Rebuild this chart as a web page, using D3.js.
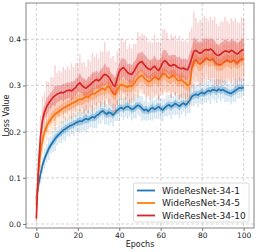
<!DOCTYPE html>
<html><head><meta charset="utf-8">
<script src="https://cdn.jsdelivr.net/npm/d3@7"></script>
<style>body{margin:0;background:#fff}svg{display:block;font-family:"DejaVu Sans",sans-serif}</style>
</head><body><svg id="c" width="258" height="252"></svg>
<script>
const seriesNames = ["WideResNet-34-1","WideResNet-34-5","WideResNet-34-10"];
const seriesColors = ["#1f77b4","#ff7f0e","#d62728"];
const xTicks = [0,20,40,60,80,100];
const yTicks = [0.0,0.1,0.2,0.3,0.4];

const blueMean = [0.055,0.085,0.108,0.128,0.142,0.153,0.163,0.171,0.178,0.184,
0.19,0.194,0.199,0.203,0.206,0.209,0.212,0.214,0.216,0.219,
0.221,0.223,0.222,0.226,0.228,0.226,0.229,0.232,0.23,0.235,
0.237,0.242,0.245,0.241,0.238,0.242,0.24,0.236,0.241,0.246,
0.25,0.252,0.249,0.253,0.255,0.252,0.248,0.25,0.254,0.257,
0.255,0.25,0.246,0.248,0.244,0.249,0.252,0.248,0.251,0.254,
0.25,0.247,0.252,0.256,0.258,0.254,0.257,0.261,0.258,0.255,
0.259,0.262,0.258,0.262,0.268,0.276,0.279,0.281,0.279,0.283,
0.285,0.282,0.286,0.289,0.287,0.291,0.29,0.288,0.292,0.289,
0.291,0.288,0.286,0.284,0.283,0.286,0.289,0.292,0.295,0.294,0.296];
const orangeMean = [0.04,0.11,0.155,0.182,0.2,0.212,0.22,0.227,0.233,0.238,
0.241,0.244,0.248,0.251,0.253,0.256,0.258,0.261,0.263,0.265,
0.268,0.27,0.27,0.273,0.276,0.274,0.279,0.283,0.281,0.285,
0.288,0.291,0.294,0.29,0.296,0.298,0.29,0.283,0.28,0.29,
0.298,0.302,0.3,0.298,0.296,0.3,0.298,0.304,0.31,0.316,
0.32,0.322,0.316,0.312,0.308,0.31,0.314,0.318,0.316,0.312,
0.318,0.324,0.326,0.32,0.316,0.318,0.322,0.318,0.312,0.31,
0.313,0.308,0.305,0.3,0.302,0.336,0.352,0.356,0.348,0.346,
0.35,0.355,0.36,0.356,0.354,0.358,0.352,0.347,0.345,0.344,
0.348,0.352,0.355,0.352,0.35,0.355,0.352,0.348,0.354,0.358,0.356];
const redMean = [0.012,0.12,0.19,0.226,0.243,0.254,0.262,0.268,0.274,0.278,
0.281,0.283,0.285,0.284,0.287,0.289,0.29,0.288,0.292,0.296,
0.302,0.306,0.3,0.296,0.294,0.298,0.302,0.306,0.31,0.313,
0.31,0.314,0.32,0.324,0.322,0.318,0.31,0.302,0.298,0.315,
0.33,0.336,0.339,0.334,0.328,0.325,0.324,0.33,0.338,0.346,
0.35,0.352,0.345,0.34,0.336,0.334,0.338,0.342,0.336,0.332,
0.34,0.35,0.354,0.35,0.344,0.342,0.345,0.344,0.34,0.338,
0.336,0.338,0.335,0.334,0.345,0.36,0.374,0.376,0.372,0.37,
0.372,0.376,0.378,0.376,0.379,0.376,0.37,0.366,0.365,0.368,
0.372,0.375,0.374,0.372,0.376,0.374,0.37,0.368,0.372,0.376,0.378];

const blueSpread = [0.006,0.015,0.02,0.018,0.022,0.02,0.024,0.019,0.022,0.026,
0.02,0.018,0.024,0.021,0.027,0.019,0.023,0.02,0.025,0.018,
0.022,0.026,0.02,0.024,0.03,0.021,0.019,0.025,0.022,0.028,
0.02,0.024,0.019,0.026,0.022,0.03,0.021,0.025,0.018,0.023,
0.027,0.02,0.024,0.022,0.028,0.019,0.024,0.021,0.026,0.02,
0.023,0.027,0.021,0.025,0.019,0.024,0.028,0.02,0.023,0.026,
0.021,0.025,0.019,0.024,0.022,0.027,0.02,0.025,0.021,0.026,
0.023,0.019,0.025,0.022,0.028,0.021,0.024,0.02,0.026,0.022,
0.025,0.019,0.024,0.021,0.027,0.02,0.023,0.026,0.021,0.024,
0.02,0.025,0.022,0.019,0.024,0.021,0.026,0.02,0.023,0.021,0.018];
const orangeSpread = [0.008,0.03,0.035,0.03,0.028,0.032,0.027,0.035,0.03,0.038,
0.028,0.033,0.03,0.036,0.029,0.034,0.03,0.038,0.031,0.035,
0.029,0.037,0.032,0.04,0.03,0.035,0.031,0.042,0.033,0.036,
0.03,0.04,0.034,0.038,0.031,0.043,0.035,0.032,0.039,0.034,
0.04,0.033,0.045,0.036,0.032,0.041,0.035,0.038,0.033,0.044,
0.036,0.04,0.034,0.038,0.032,0.042,0.036,0.039,0.034,0.045,
0.037,0.041,0.035,0.039,0.033,0.044,0.036,0.04,0.034,0.038,
0.042,0.036,0.04,0.035,0.046,0.038,0.042,0.036,0.041,0.045,
0.037,0.04,0.035,0.044,0.038,0.041,0.036,0.043,0.039,0.035,
0.042,0.037,0.04,0.036,0.044,0.038,0.041,0.037,0.043,0.039,0.036];
const redSpread = [0.01,0.04,0.045,0.05,0.042,0.055,0.045,0.05,0.044,0.066,
0.046,0.05,0.043,0.056,0.047,0.052,0.045,0.06,0.048,0.053,
0.046,0.062,0.05,0.055,0.047,0.058,0.05,0.065,0.052,0.056,
0.048,0.06,0.053,0.07,0.05,0.057,0.049,0.062,0.054,0.058,
0.05,0.066,0.055,0.065,0.051,0.064,0.056,0.06,0.052,0.07,
0.057,0.061,0.065,0.066,0.058,0.062,0.054,0.068,0.058,0.063,
0.055,0.072,0.068,0.064,0.056,0.069,0.06,0.065,0.057,0.07,
0.061,0.058,0.064,0.06,0.072,0.066,0.086,0.07,0.064,0.072,
0.066,0.075,0.068,0.064,0.07,0.066,0.078,0.068,0.064,0.07,
0.066,0.074,0.067,0.063,0.07,0.066,0.076,0.068,0.064,0.072,0.068];

const means = [blueMean, orangeMean, redMean];
const spreads = [blueSpread, orangeSpread, redSpread];

const L = 26, R = 254, T = 3, B = 228;
const svg = d3.select("#c");
const x = d3.scaleLinear().domain([-5, 105]).range([L, R]);
const y = d3.scaleLinear().domain([-0.0087, 0.4786]).range([B, T]);

// grid
const g = svg.append("g");
g.selectAll(".gx").data(xTicks).join("line")
  .attr("x1", d => x(d)).attr("x2", d => x(d)).attr("y1", T).attr("y2", B)
  .attr("stroke", "#c8c8c8").attr("stroke-width", 0.8).attr("stroke-dasharray", "3,2");
g.selectAll(".gy").data(yTicks).join("line")
  .attr("y1", d => y(d)).attr("y2", d => y(d)).attr("x1", L).attr("x2", R)
  .attr("stroke", "#c8c8c8").attr("stroke-width", 0.8).attr("stroke-dasharray", "3,2");

svg.append("clipPath").attr("id", "clip").append("rect")
  .attr("x", L).attr("y", T).attr("width", R - L).attr("height", B - T);
const plot = svg.append("g").attr("clip-path", "url(#clip)");

means.forEach((m, si) => {
  const sp = spreads[si];
  const pts = m.map((v, i) => ({e: i, v: v, s: sp[i]}));
  const col = seriesColors[si];
  plot.append("g").selectAll("line").data(pts).join("line")
    .attr("x1", d => x(d.e)).attr("x2", d => x(d.e))
    .attr("y1", d => y(d.v - d.s)).attr("y2", d => y(d.v + d.s))
    .attr("stroke", col).attr("stroke-opacity", 0.2).attr("stroke-width", 1.5);
  const inner = d3.area().x(d => x(d.e)).y0(d => y(d.v - d.s * 0.35)).y1(d => y(d.v + d.s * 0.35));
  plot.append("path").datum(pts).attr("d", inner).attr("fill", col).attr("fill-opacity", 0.3);
  plot.append("path").datum(pts).attr("d", d3.line().x(d => x(d.e)).y(d => y(d.v)))
    .attr("fill", "none").attr("stroke", col).attr("stroke-width", 1.7).attr("stroke-linejoin", "round");
});

// axes
const xa = svg.append("g").attr("transform", `translate(0,${B})`)
  .call(d3.axisBottom(x).tickValues(xTicks).tickFormat(d3.format("d")).tickSize(3).tickPadding(2));
const ya = svg.append("g").attr("transform", `translate(${L},0)`)
  .call(d3.axisLeft(y).tickValues(yTicks).tickFormat(d3.format(".1f")).tickSize(3).tickPadding(2));
[xa, ya].forEach(a => {
  a.select(".domain").remove();
  a.selectAll("line").attr("stroke", "#555").attr("stroke-width", 0.8);
  a.selectAll("text").attr("font-size", 7.5).attr("fill", "#222").attr("font-family", "DejaVu Sans");
});
svg.append("rect").attr("x", L).attr("y", T).attr("width", R - L).attr("height", B - T)
  .attr("fill", "none").attr("stroke", "#777").attr("stroke-width", 0.9);

svg.append("text").attr("x", (L + R) / 2).attr("y", 247).attr("text-anchor", "middle")
  .attr("font-size", 8).attr("fill", "#222").text("Epochs");
svg.append("text").attr("transform", `translate(8.5,${(T + B) / 2}) rotate(-90)`).attr("text-anchor", "middle")
  .attr("font-size", 8).attr("fill", "#222").text("Loss Value");

// legend
const lg = svg.append("g");
lg.append("rect").attr("x", 133.5).attr("y", 183).attr("width", 115.5).attr("height", 39).attr("rx", 2)
  .attr("fill", "#fff").attr("fill-opacity", 0.85).attr("stroke", "#d0d0d0").attr("stroke-width", 0.8);
const rowsY = [190.5, 203, 215.5];
seriesNames.forEach((n, i) => {
  lg.append("line").attr("x1", 137).attr("x2", 155).attr("y1", rowsY[i]).attr("y2", rowsY[i])
    .attr("stroke", seriesColors[i]).attr("stroke-width", 1.8);
  lg.append("text").attr("x", 162).attr("y", rowsY[i] + 3.2).attr("font-size", 9).attr("fill", "#222").text(n);
});
</script></body></html>
